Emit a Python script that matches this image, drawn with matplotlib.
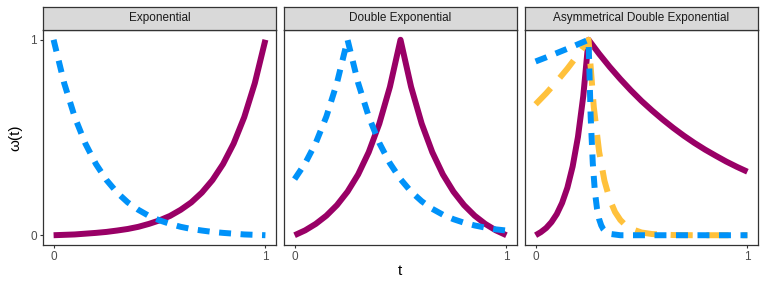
import matplotlib.pyplot as plt

plt.rcParams['font.family'] = ['Liberation Sans', 'DejaVu Sans']

# values
t_grid = [0, 0.05, 0.1, 0.15, 0.2, 0.25, 0.3, 0.35, 0.4, 0.45, 0.5,
          0.55, 0.6, 0.65, 0.7, 0.75, 0.8, 0.85, 0.9, 0.95, 1.0]

# panel 1: Exponential
exp_purple = [0, .002, .004, .008, .012, .017, .024, .032, .043, .058, .076,
              .099, .130, .168, .218, .282, .364, .469, .604, .778, 1.0]
exp_blue = [1.0, .778, .604, .469, .364, .282, .218, .168, .130, .099, .076,
            .058, .043, .032, .024, .017, .012, .008, .004, .002, 0]

# panel 2: Double Exponential
dbl_purple = [0, .025, .058, .100, .154, .223, .311, .425, .571, .759, 1.0,
              .759, .571, .425, .311, .223, .154, .100, .058, .025, 0]
dbl_blue = [.287, .368, .472, .607, .779, 1.0, .779, .607, .472, .368, .287,
            .223, .174, .135, .105, .082, .064, .050, .039, .030, .024]

# panel 3: Asymmetrical Double Exponential
asym_purple_t = [0, 0.025, 0.05, 0.075, 0.1, 0.125, 0.15, 0.175, 0.2, 0.225, 0.25,
                 0.3, 0.35, 0.4, 0.45, 0.5, 0.55, 0.6, 0.65, 0.7, 0.75, 0.8,
                 0.85, 0.9, 0.95, 1.0]
asym_purple = [0, .016, .037, .067, .108, .165, .243, .352, .503, .711, 1.0,
               .928, .861, .799, .741, .687, .638, .592, .549, .509, .472, .438,
               .407, .377, .350, .325]

asym_blue_t = [0, 0.05, 0.1, 0.15, 0.2, 0.25, 0.26, 0.27, 0.28, 0.29, 0.3,
               0.31, 0.32, 0.33, 0.34, 0.35, 0.4, 0.5, 0.6, 0.7, 0.8, 0.9, 1.0]
asym_blue = [.889, .910, .932, .954, .977, 1.0, .607, .368, .223, .135, .082,
             .050, .030, .018, .011, .007, 0, 0, 0, 0, 0, 0, 0]

asym_orange_t = [0, 0.05, 0.1, 0.15, 0.2, 0.25, 0.275, 0.3, 0.325, 0.35, 0.375,
                 0.4, 0.425, 0.45, 0.5, 0.55, 0.65, 0.75, 0.85, 1.0]
asym_orange = [.670, .726, .787, .852, .923, 1.0, .654, .427, .279, .183, .119,
               .078, .051, .033, .014, .006, .001, 0, 0, 0]

titles = ['Exponential', 'Double Exponential', 'Asymmetrical Double Exponential']

purple = '#990066'
blue = '#0092F9'
orange = '#FFC13B'
lw = 4.3

W, H = 765, 287
fig = plt.figure(figsize=(W / 100, H / 100), dpi=100)

lefts = [43, 284, 525]
pw = 233

panels = [
    [(t_grid, exp_purple, purple, None), (t_grid, exp_blue, blue, (2.0, 1.6))],
    [(t_grid, dbl_purple, purple, None), (t_grid, dbl_blue, blue, (2.0, 1.6))],
    [(asym_purple_t, asym_purple, purple, None),
     (asym_orange_t, asym_orange, orange, (3.7, 2.3)),
     (asym_blue_t, asym_blue, blue, (2.0, 1.6))],
]

for i, (left, title, series) in enumerate(zip(lefts, titles, panels)):
    ax = fig.add_axes([left / W, 1 - 245 / H, pw / W, 215 / H])
    for xs, ys, col, dash in series:
        if dash is None:
            ax.plot(xs, ys, color=col, lw=lw, solid_capstyle='butt')
        else:
            ax.plot(xs, ys, color=col, lw=lw, dashes=dash, dash_capstyle='butt')
    ax.set_xlim(-0.05, 1.05)
    ax.set_ylim(-0.05, 1.05)
    ax.set_xticks([0, 1])
    ax.set_xticklabels(['0', '1'])
    ax.set_yticks([0, 1])
    if i == 0:
        ax.set_yticklabels(['0', '1'])
        ax.tick_params(axis='y', length=2.5, width=0.8, color='#333333',
                       labelcolor='#4D4D4D', labelsize=8.5, pad=2)
    else:
        ax.tick_params(axis='y', left=False, labelleft=False)
    ax.tick_params(axis='x', length=2.5, width=0.8, color='#333333',
                   labelcolor='#4D4D4D', labelsize=8.5, pad=2)
    for s in ax.spines.values():
        s.set_color('#333333')
        s.set_linewidth(0.9)

    # facet strip
    sax = fig.add_axes([left / W, 1 - 30 / H, pw / W, 23 / H])
    sax.set_facecolor('#D9D9D9')
    sax.set_xticks([])
    sax.set_yticks([])
    for s in sax.spines.values():
        s.set_color('#333333')
        s.set_linewidth(0.9)
    sax.text(0.5, 0.5, title, ha='center', va='center', fontsize=8.5,
             color='#1A1A1A', transform=sax.transAxes)

fig.text(400 / W, 1 - 271 / H, 't', ha='center', va='center', fontsize=11)
fig.text(15 / W, 1 - 138 / H, 'ω(t)', ha='center', va='center', fontsize=11,
         rotation=90)

fig.savefig('out.png', dpi=100)
